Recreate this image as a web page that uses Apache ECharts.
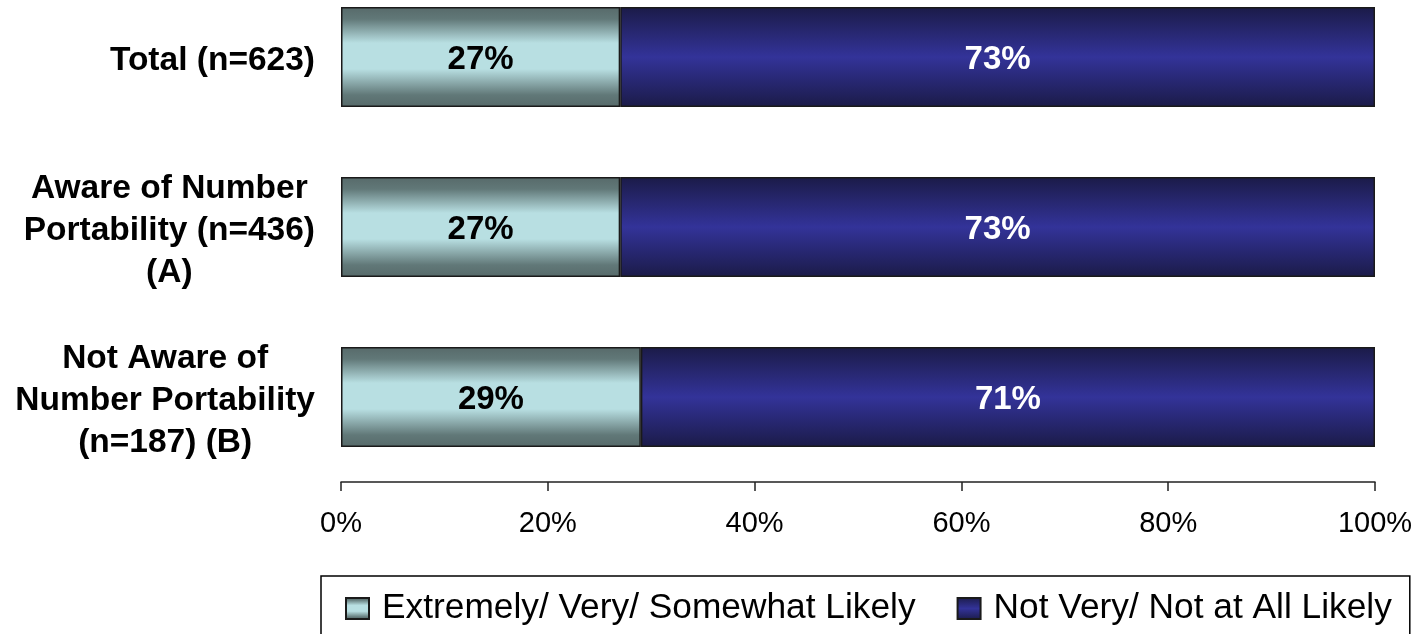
<!DOCTYPE html>
<html>
<head>
<meta charset="utf-8">
<script src="https://cdn.jsdelivr.net/npm/echarts@6/dist/echarts.min.js"></script>
<style>
html,body{margin:0;padding:0;background:#fff;}
#chart{width:1416px;height:634px;}
</style>
</head>
<body>
<div id="chart"></div>
<script>
var categories = [
  'Total (n=623)',
  'Aware of Number\nPortability (n=436)\n(A)',
  'Not Aware of\nNumber Portability\n(n=187) (B)'
];
var seriesNames = ['Extremely/ Very/ Somewhat Likely', 'Not Very/ Not at All Likely'];
var likelyValues = [27, 27, 29];
var notLikelyValues = [73, 73, 71];
var xTickValues = [0, 20, 40, 60, 80, 100];

var chart = echarts.init(document.getElementById('chart'), null, {renderer: 'canvas'});

function grad(stops) {
  return new echarts.graphic.LinearGradient(0, 0, 0, 1, stops.map(function (s) {
    return {offset: s[0], color: s[1]};
  }));
}

var option = {
  animation: false,
  backgroundColor: '#ffffff',
  grid: {left: 341, right: 41, top: -28, bottom: 152, containLabel: false, outerBoundsMode: 'none'},
  xAxis: {
    type: 'value',
    min: 0, max: 100, interval: 20,
    axisLine: {show: true, lineStyle: {color: '#222', width: 1.5}},
    axisTick: {show: true, length: 9, lineStyle: {color: '#222', width: 1.5}},
    splitLine: {show: false},
    axisLabel: {
      margin: 27,
      fontFamily: 'Liberation Sans, Arial, sans-serif',
      fontSize: 29,
      color: '#000',
      formatter: function (v) { return xTickValues.indexOf(v) >= 0 ? v + '%' : ''; }
    }
  },
  yAxis: {
    type: 'category',
    inverse: true,
    data: categories,
    axisLine: {show: false},
    axisTick: {show: false},
    axisLabel: {
      margin: 26,
      align: 'right',
      padding: [7, 0, 0, 0],
      formatter: function (v) {
        return v.split('\n').map(function (s) { return '{c|' + s + '}'; }).join('\n');
      },
      rich: {
        c: {
          align: 'center',
          fontFamily: 'Liberation Sans, Arial, sans-serif',
          fontSize: 33.5,
          fontWeight: 'bold',
          color: '#000',
          lineHeight: 42
        }
      }
    }
  },
  legend: {
    left: 321,
    top: 576,
    padding: [15, 18, 40, 24],
    borderColor: '#000',
    borderWidth: 1.5,
    itemWidth: 23,
    itemHeight: 21,
    itemGap: 41,
    icon: 'rect',
    textStyle: {
      fontFamily: 'Liberation Sans, Arial, sans-serif',
      fontSize: 35.3,
      color: '#000',
      padding: [0, 0, 0, 8]
    },
    data: seriesNames
  },
  series: [
    {
      name: seriesNames[0],
      type: 'bar',
      stack: 'total',
      barWidth: 100,
      data: likelyValues,
      itemStyle: {
        color: grad([[0, '#576a6a'], [0.12, '#617878'], [0.36, '#b8dfe2'], [0.62, '#b8dfe2'], [0.88, '#617878'], [1, '#576a6a']]),
        borderColor: '#1a1a1a', borderWidth: 1.5
      },
      label: {
        show: true, position: 'inside', offset: [0, 3],
        formatter: '{c}%',
        fontFamily: 'Liberation Sans, Arial, sans-serif',
        fontSize: 33, fontWeight: 'bold', color: '#000'
      }
    },
    {
      name: seriesNames[1],
      type: 'bar',
      stack: 'total',
      barWidth: 100,
      data: notLikelyValues,
      itemStyle: {
        color: grad([[0, '#1b1b48'], [0.5, '#333399'], [1, '#1b1b48']]),
        borderColor: '#1a1a1a', borderWidth: 1.5
      },
      label: {
        show: true, position: 'inside', offset: [0, 3],
        formatter: '{c}%',
        fontFamily: 'Liberation Sans, Arial, sans-serif',
        fontSize: 33, fontWeight: 'bold', color: '#fff'
      }
    }
  ]
};
chart.setOption(option);
</script>
</body>
</html>
